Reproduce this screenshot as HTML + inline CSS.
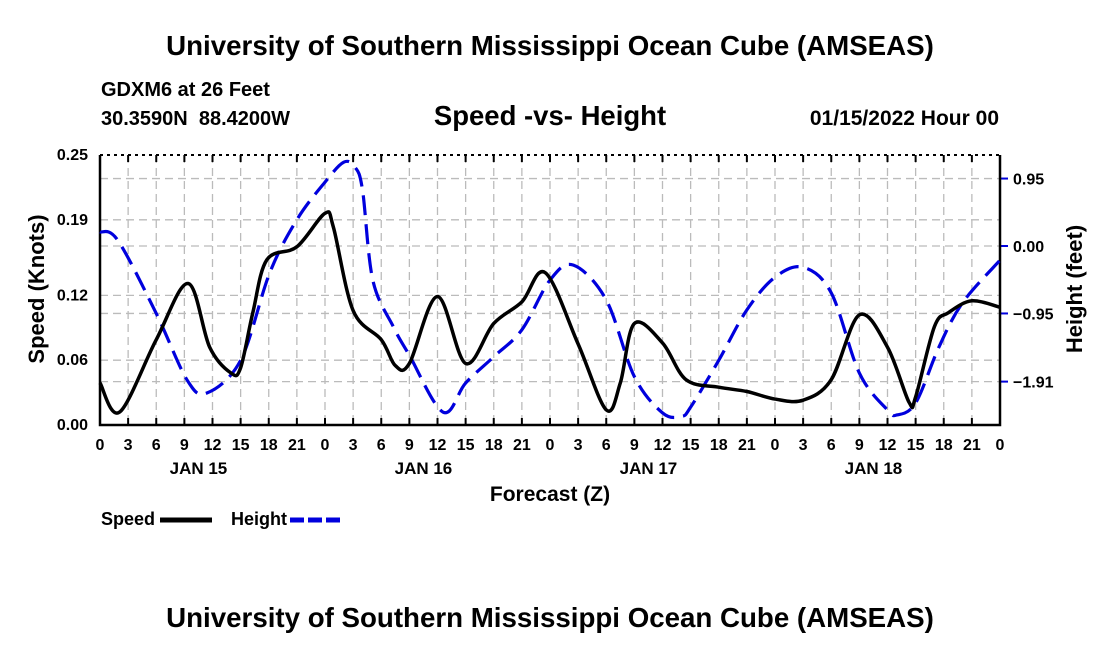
<!DOCTYPE html>
<html><head><meta charset="utf-8"><style>
body{margin:0;background:#fff;width:1100px;height:650px;overflow:hidden;font-family:"Liberation Sans",sans-serif}
svg text{font-family:"Liberation Sans",sans-serif;font-weight:bold;white-space:pre}
</style></head><body>
<svg id="c" width="1100" height="650">
<text x="550" y="55" text-anchor="middle" font-size="27.7">University of Southern Mississippi Ocean Cube (AMSEAS)</text>
<text x="101" y="96" font-size="20">GDXM6 at 26 Feet</text>
<text x="101" y="125" font-size="20">30.3590N  88.4200W</text>
<text x="550" y="125" text-anchor="middle" font-size="27.5">Speed -vs- Height</text>
<text x="999" y="125" text-anchor="end" font-size="21">01/15/2022 Hour 00</text>
<text x="550" y="627" text-anchor="middle" font-size="27.7">University of Southern Mississippi Ocean Cube (AMSEAS)</text>
<g id="grid"></g><g id="axes"></g><g id="series"></g>
<text x="550" y="501" text-anchor="middle" font-size="21">Forecast (Z)</text>
<text transform="translate(44,289) rotate(-90)" text-anchor="middle" font-size="22">Speed (Knots)</text>
<text transform="translate(1082,289) rotate(-90)" text-anchor="middle" font-size="22">Height (feet)</text>
<g>
<text x="101" y="525" font-size="18">Speed</text>
<line x1="160" y1="520" x2="212" y2="520" stroke="#000" stroke-width="5"/>
<text x="231" y="525" font-size="18">Height</text>
<line x1="290" y1="520" x2="342" y2="520" stroke="#0000dd" stroke-width="5" stroke-dasharray="14,4"/>
</g>
</svg>
<script>
const speedHours= [0,    2.1,  6,    9.4,  11.7, 14,   15,   16.3, 17.8, 21,   24,   24.9, 27,   30,   31.5, 33,   36,   39,   42,   45,   47.5, 51,   54,   55.5, 57,   60,   62.5, 66,   69,   72,   75,   78,   81,   84,   86.3, 87,   89,   90.5, 93,   96];
const speedValues=[0.039,0.012,0.079,0.131,0.072,0.048,0.053,0.104,0.153,0.165,0.196,0.183,0.106,0.079,0.055,0.057,0.119,0.057,0.094,0.114,0.141,0.075,0.014,0.039,0.094,0.076,0.042,0.035,0.031,0.024,0.023,0.042,0.102,0.072,0.021,0.026,0.091,0.104,0.115,0.109];
const heightHours= [0,   1.9, 6,    9.3,  11.4, 15,   18.1, 21,  24,  26,  27.2, 28,  29.1, 31.3, 33,   36.6, 39,   42,   45,   48,   50.5, 54,   57,   60,   62,   63,   66,   69,   72,   75,   78,   81,   84,   85,   87,   89.5, 92,   96];
const heightValues=[0.20,0.08,-0.95,-1.89,-2.07,-1.61,-0.38,0.37,0.90,1.18,1.11,0.79,-0.48,-1.14,-1.54,-2.34,-1.93,-1.56,-1.18,-0.48,-0.27,-0.76,-1.84,-2.35,-2.40,-2.27,-1.61,-0.90,-0.44,-0.30,-0.66,-1.79,-2.31,-2.38,-2.21,-1.42,-0.80,-0.20];
const leftTicks=[0,0.06,0.12,0.19,0.25];
const leftTickLabels=["0.00","0.06","0.12","0.19","0.25"];
const rightTicks=[0.95,0,-0.95,-1.91];
const rightTickLabels=["0.95","0.00","\u22120.95","\u22121.91"];
const xTickHours=[0,3,6,9,12,15,18,21,24,27,30,33,36,39,42,45,48,51,54,57,60,63,66,69,72,75,78,81,84,87,90,93,96];
const dayLabels=["JAN 15","JAN 16","JAN 17","JAN 18"];
const dayCenters=[10.5,34.5,58.5,82.5];

const L=100,R=1000,T=155,B=425,NS="http://www.w3.org/2000/svg";
const xs=h=>L+(R-L)*h/96;
const ySpeed=v=>B-(B-T)*v/0.25;
const yHeight=v=>246-71*v;
function mk(tag,attrs,parent){const e=document.createElementNS(NS,tag);for(const k in attrs)e.setAttribute(k,attrs[k]);parent.appendChild(e);return e;}
const grid=document.getElementById('grid'),axes=document.getElementById('axes'),series=document.getElementById('series');
xTickHours.forEach((h,i)=>{
 if(i>0&&i<xTickHours.length-1){const g=mk('line',{x1:xs(h),x2:xs(h),y1:T,y2:B,stroke:'#bbb','stroke-width':1.3,'stroke-dasharray':'8,5'},grid);
 
 }
 const t=mk('line',{x1:xs(h),x2:xs(h),y1:B,y2:B-7,stroke:'#000','stroke-width':2},axes);
 
 
 const tt=mk('line',{x1:xs(h),x2:xs(h),y1:T,y2:T+7,stroke:'#000','stroke-width':2},axes);
 
 
 const lb=mk('text',{x:xs(h),y:B+25,'text-anchor':'middle','font-size':16},axes);lb.textContent=String(h%24);
 
 
});
dayLabels.forEach((d,i)=>{const t=mk('text',{x:xs(dayCenters[i]),y:B+49,'text-anchor':'middle','font-size':17},axes);t.textContent=d;
 
 });
leftTicks.forEach((v,i)=>{
 if(v>0&&v<0.25){const g=mk('line',{x1:L,x2:R,y1:ySpeed(v),y2:ySpeed(v),stroke:'#bbb','stroke-width':1.3,'stroke-dasharray':'8,5'},grid);
 
 }
 const t=mk('text',{x:L-12,y:ySpeed(v)+5,'text-anchor':'end','font-size':16},axes);t.textContent=leftTickLabels[i];
 
 
});
rightTicks.forEach((v,i)=>{
 const g=mk('line',{x1:L,x2:R,y1:yHeight(v),y2:yHeight(v),stroke:'#bbb','stroke-width':1.3,'stroke-dasharray':'8,5'},grid);
 
 
 const tk=mk('line',{x1:R,x2:R+8,y1:yHeight(v),y2:yHeight(v),stroke:'#0000dd','stroke-width':2},axes);
 
 
 const t=mk('text',{x:R+13,y:yHeight(v)+6,'font-size':16},axes);t.textContent=rightTickLabels[i];
 
 
});
const frame=mk('path',{d:`M${L},${T}V${B}H${R}V${T}`,fill:'none',stroke:'#000','stroke-width':2.5},axes);


const topBorder=mk('line',{x1:L,x2:R,y1:T,y2:T,stroke:'#000','stroke-width':2,'stroke-dasharray':'3,4'},axes);


function smooth(px){let d=`M${px[0][0]},${px[0][1]}`;for(let i=0;i<px.length-1;i++){const p0=px[Math.max(0,i-1)],p1=px[i],p2=px[i+1],p3=px[Math.min(px.length-1,i+2)];
 d+=`C${p1[0]+(p2[0]-p0[0])/6},${p1[1]+(p2[1]-p0[1])/6} ${p2[0]-(p3[0]-p1[0])/6},${p2[1]-(p3[1]-p1[1])/6} ${p2[0]},${p2[1]}`;}return d;}
const hp=mk('path',{d:smooth(heightHours.map((h,i)=>[xs(h),yHeight(heightValues[i])])),fill:'none',stroke:'#0000dd','stroke-width':3.2,'stroke-dasharray':'20,9'},series);


const sp=mk('path',{d:smooth(speedHours.map((h,i)=>[xs(h),ySpeed(speedValues[i])])),fill:'none',stroke:'#000','stroke-width':3.5},series);


</script>
</body></html>
